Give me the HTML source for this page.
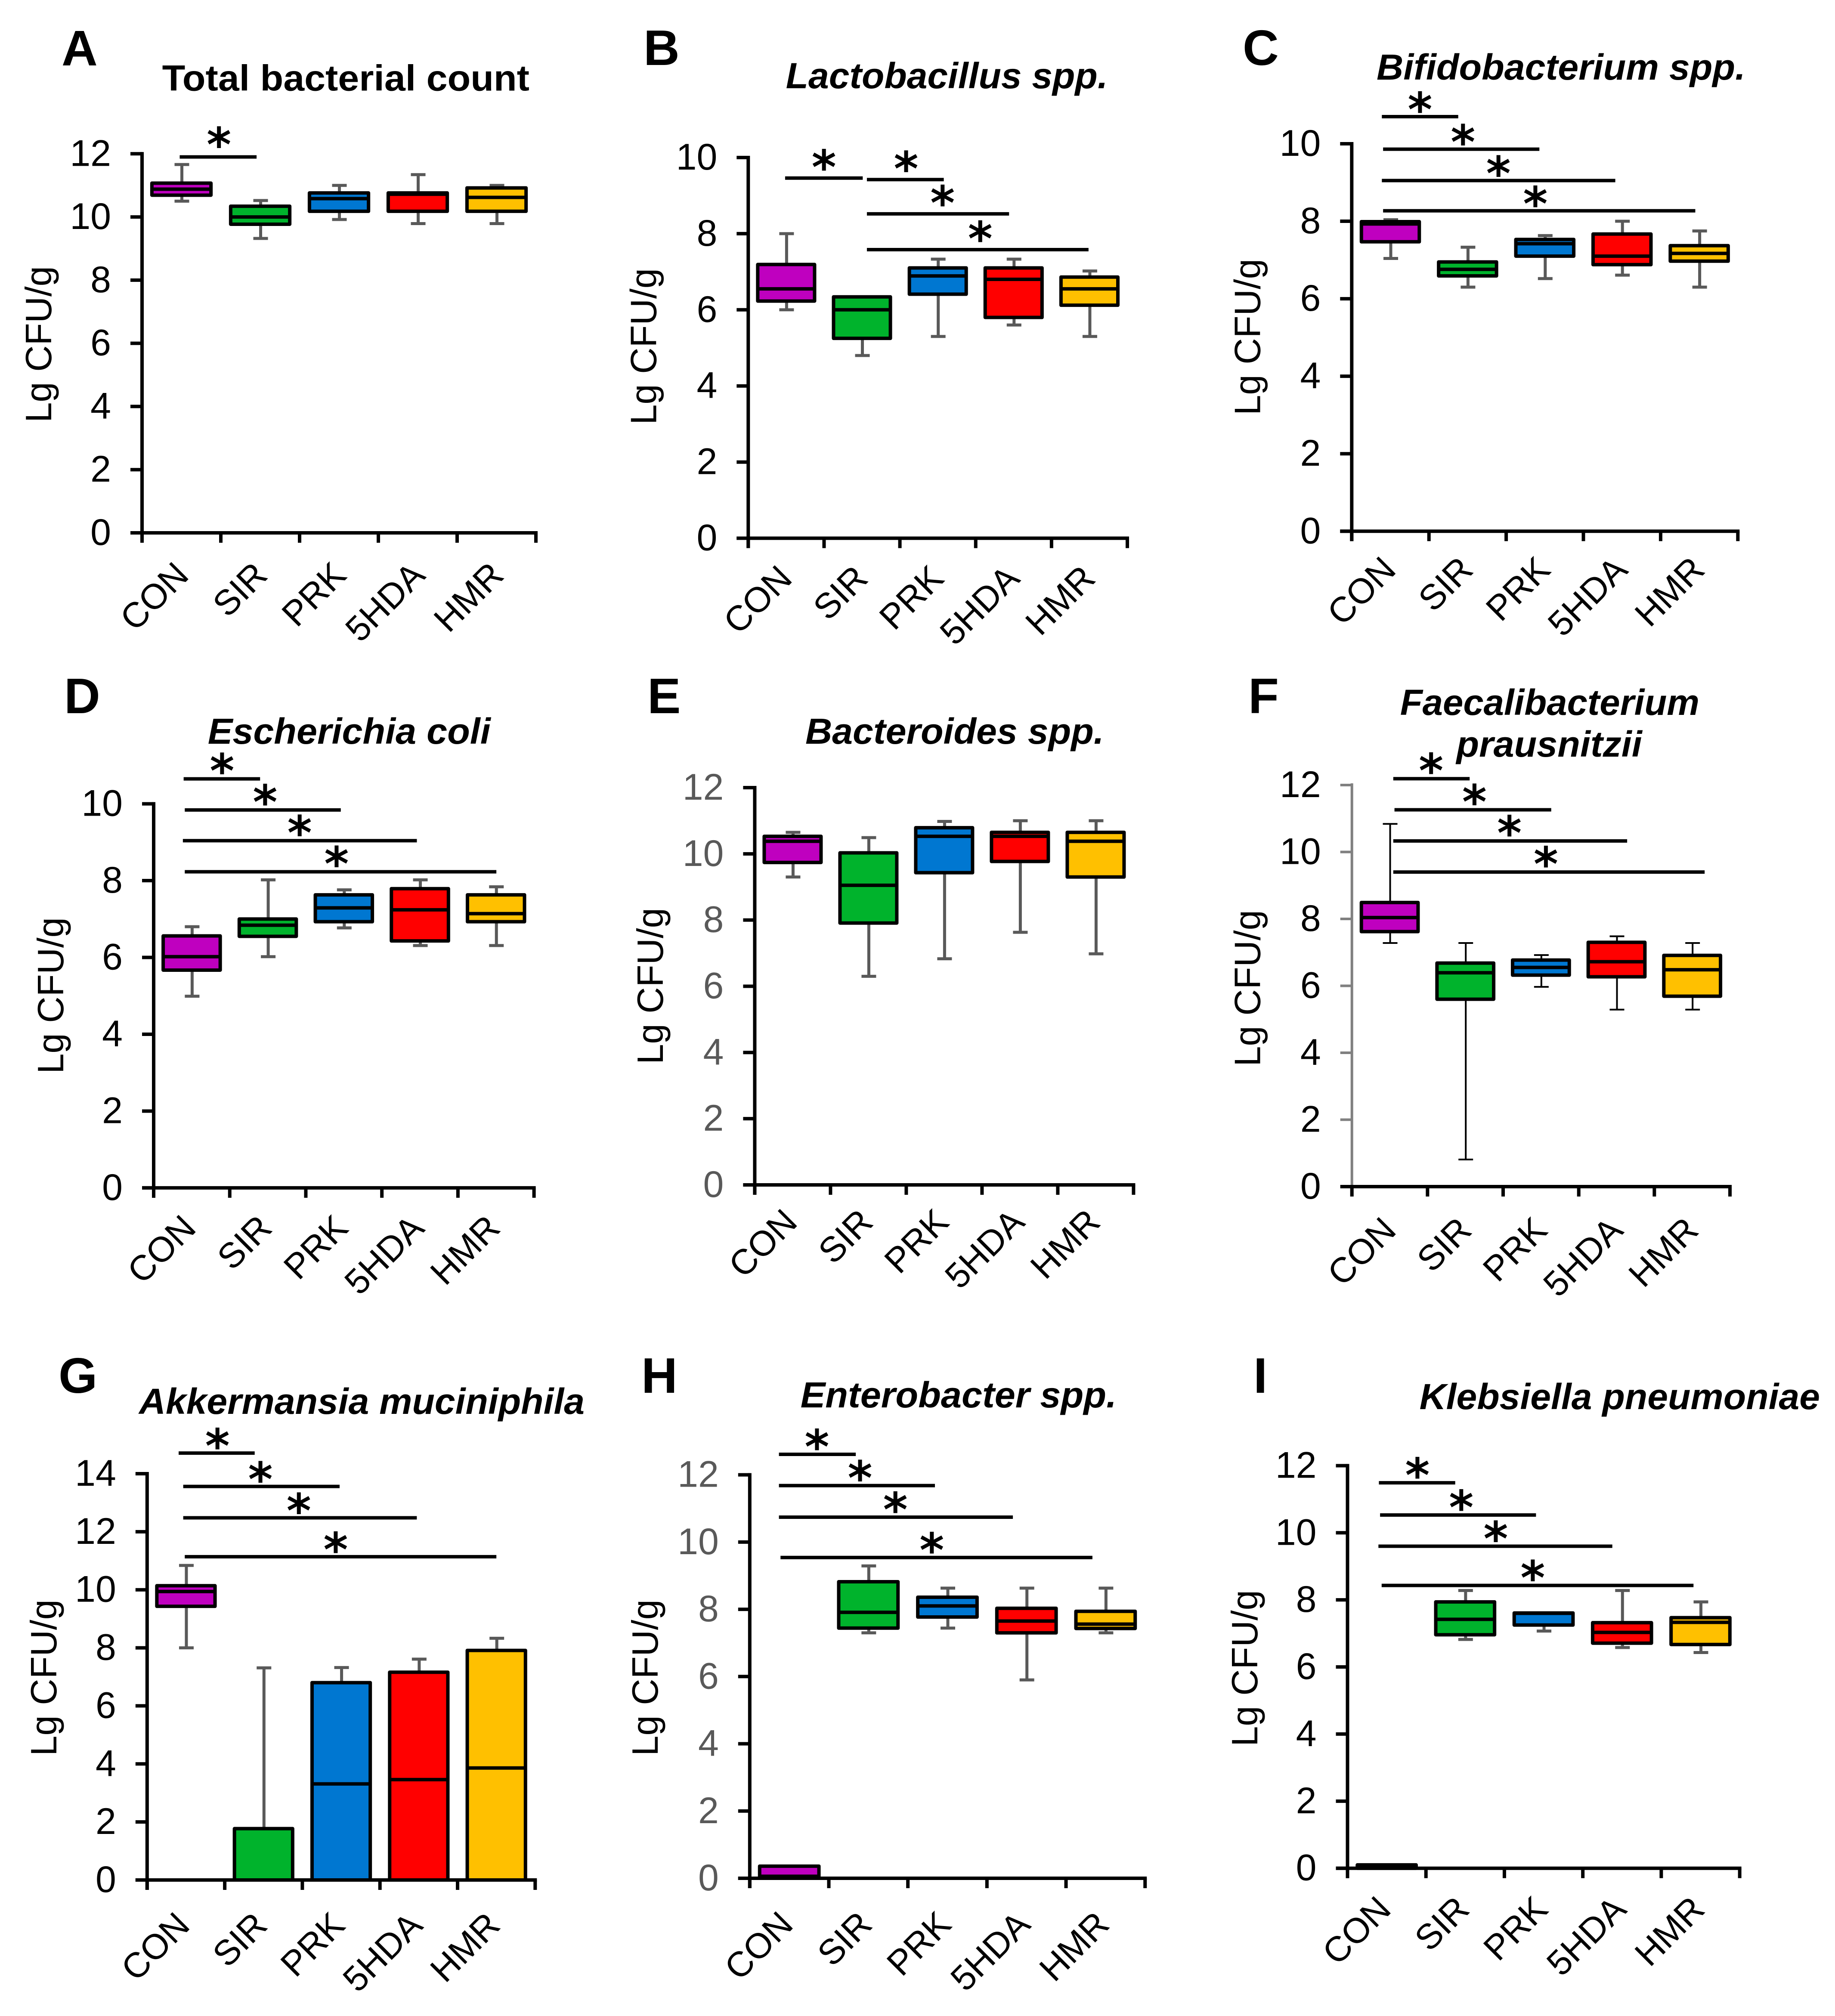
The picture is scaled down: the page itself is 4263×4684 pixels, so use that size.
<!DOCTYPE html>
<html lang="en">
<head>
<meta charset="utf-8">
<title>Gut bacteria box plots</title>
<style>
html,body{margin:0;padding:0;background:#fff;}
svg{display:block;font-family:"Liberation Sans",sans-serif;}
</style>
</head>
<body>
<svg id="figure" xmlns="http://www.w3.org/2000/svg" width="4263" height="4684" viewBox="0 0 4263 4684">
<rect width="4263" height="4684" fill="#ffffff"/>
</svg>
<script>
// Shared categories and tick labels
const categories = ['CON', 'SIR', 'PRK', '5HDA', 'HMR'];
const ticksTo10 = [0, 2, 4, 6, 8, 10];
const ticksTo12 = [0, 2, 4, 6, 8, 10, 12];
const ticksTo14 = [0, 2, 4, 6, 8, 10, 12, 14];
const yAxisTitle = 'Lg CFU/g';

// A: Total bacterial count
const aHigh = [11.66, 10.52, 11.0, 11.34, 11.0];
const aQ3 = [11.07, 10.34, 10.76, 10.76, 10.92];
const aMedian = [10.88, 10.0, 10.58, 10.72, 10.62];
const aQ1 = [10.69, 9.77, 10.18, 10.18, 10.18];
const aLow = [10.5, 9.32, 9.92, 9.79, 9.79];
const aSigFrom = [0.478];
const aSigTo = [1.454];
const aSigLevel = [11.9];
const aSigStar = [0.976];

// B: Lactobacillus spp.
const bHigh = [8.0, 6.34, 7.33, 7.33, 7.02];
const bQ3 = [7.19, 6.34, 7.1, 7.1, 6.86];
const bMedian = [6.55, 6.0, 6.89, 6.8, 6.55];
const bQ1 = [6.23, 5.25, 6.41, 5.8, 6.12];
const bLow = [6.0, 4.8, 5.3, 5.6, 5.3];
const bSigFrom = [0.486, 1.565, 1.565, 1.565];
const bSigTo = [1.51, 2.579, 3.44, 4.488];
const bSigLevel = [9.46, 9.42, 8.52, 7.58];
const bSigStar = [0.998, 2.082, 2.563, 3.06];

// C: Bifidobacterium spp.
const cHigh = [8.04, 7.33, 7.63, 8.0, 7.75];
const cQ3 = [7.99, 6.95, 7.53, 7.67, 7.37];
const cMedian = [7.93, 6.76, 7.42, 7.1, 7.17];
const cQ1 = [7.47, 6.59, 7.1, 6.88, 6.97];
const cLow = [7.04, 6.3, 6.52, 6.61, 6.3];
const cSigFrom = [0.39, 0.406, 0.39, 0.406];
const cSigTo = [1.379, 2.43, 3.413, 4.449];
const cSigLevel = [10.7, 9.86, 9.05, 8.27];
const cSigStar = [0.884, 1.441, 1.9, 2.378];

// D: Escherichia coli
const dHigh = [6.8, 8.02, 7.76, 8.02, 7.84];
const dQ3 = [6.56, 7.0, 7.63, 7.79, 7.63];
const dMedian = [6.02, 6.84, 7.29, 7.24, 7.14];
const dQ1 = [5.67, 6.55, 6.93, 6.43, 6.93];
const dLow = [4.99, 6.02, 6.77, 6.31, 6.31];
const dSigFrom = [0.394, 0.409, 0.384, 0.409];
const dSigTo = [1.399, 2.46, 3.46, 4.505];
const dSigLevel = [10.65, 9.84, 9.04, 8.23];
const dSigStar = [0.899, 1.465, 1.919, 2.404];

// E: Bacteroides spp.
const eHigh = [10.65, 10.49, 10.98, 11.0, 11.0];
const eQ3 = [10.53, 10.03, 10.79, 10.65, 10.65];
const eMedian = [10.38, 9.05, 10.53, 10.53, 10.38];
const eQ1 = [9.74, 7.91, 9.43, 9.77, 9.3];
const eLow = [9.3, 6.3, 6.83, 7.63, 6.98];
const eSigFrom = [];
const eSigTo = [];
const eSigLevel = [];
const eSigStar = [];

// F: Faecalibacterium prausnitzii
const fHigh = [10.84, 7.28, 6.92, 7.48, 7.28];
const fQ3 = [8.49, 6.68, 6.77, 7.3, 6.91];
const fMedian = [8.04, 6.39, 6.55, 6.72, 6.48];
const fQ1 = [7.62, 5.6, 6.32, 6.27, 5.69];
const fLow = [7.28, 0.81, 5.97, 5.29, 5.29];
const fSigFrom = [0.547, 0.563, 0.547, 0.547];
const fSigTo = [1.557, 2.636, 3.64, 4.665];
const fSigLevel = [12.19, 11.26, 10.33, 9.4];
const fSigStar = [1.047, 1.621, 2.083, 2.566];

// G: Akkermansia muciniphila
const gHigh = [10.84, 7.31, 7.32, 7.61, 8.33];
const gQ3 = [10.14, 1.77, 6.8, 7.16, 7.91];
const gMedian = [9.94, 0, 3.31, 3.46, 3.86];
const gQ1 = [9.43, 0, 0, 0, 0];
const gLow = [8.0, 0, 0, 0, 0];
const gSigFrom = [0.406, 0.465, 0.465, 0.485];
const gSigTo = [1.386, 2.48, 3.475, 4.5];
const gSigLevel = [14.71, 13.56, 12.48, 11.14];
const gSigStar = [0.906, 1.46, 1.955, 2.43];

// H: Enterobacter spp.
const hHigh = [0.36, 9.29, 8.63, 8.63, 8.63];
const hQ3 = [0.36, 8.82, 8.36, 8.03, 7.94];
const hMedian = [0.06, 7.91, 8.1, 7.65, 7.56];
const hQ1 = [0, 7.44, 7.77, 7.3, 7.43];
const hLow = [0, 7.3, 7.44, 5.9, 7.3];
const hSigFrom = [0.369, 0.369, 0.369, 0.389];
const hSigTo = [1.341, 2.342, 3.328, 4.334];
const hSigLevel = [12.61, 11.68, 10.74, 9.54];
const hSigStar = [0.85, 1.395, 1.842, 2.303];

// I: Klebsiella pneumoniae
const iHigh = [0.1, 8.28, 7.61, 8.28, 7.94];
const iQ3 = [0.1, 7.94, 7.61, 7.32, 7.47];
const iMedian = [0.05, 7.42, 7.6, 7.03, 7.33];
const iQ1 = [0, 6.96, 7.25, 6.71, 6.67];
const iLow = [0, 6.82, 7.07, 6.58, 6.43];
const iSigFrom = [0.4, 0.415, 0.394, 0.435];
const iSigTo = [1.373, 2.403, 3.376, 4.411];
const iSigLevel = [11.49, 10.53, 9.6, 8.43];
const iSigStar = [0.891, 1.45, 1.89, 2.362];

// Box fill per category
const boxFills = ['#bf00bf', '#00b32c', '#0077d1', '#ff0000', '#ffc000'];

// Panel layout (pixel frames, separate from the values above)
const panelLayouts = [
  {id:'a', letter:'A', lx:143, ly:152, left:330, right:1245, bottom:1238, top:357.3, ticks:ticksTo12,
   high:aHigh, q3:aQ3, med:aMedian, q1:aQ1, low:aLow, sf:aSigFrom, st:aSigTo, sl:aSigLevel, ss:aSigStar, lift:42,
   titles:[{t:'Total bacterial count', x1:376.6, x2:1229.9, y:210.7, it:false}], ytx:119, yty:800, xdx:21, xdy:103},
  {id:'b', letter:'B', lx:1495, ly:151, left:1738.3, right:2619, bottom:1250.5, top:366, ticks:ticksTo10,
   high:bHigh, q3:bQ3, med:bMedian, q1:bQ1, low:bLow, sf:bSigFrom, st:bSigTo, sl:bSigLevel, ss:bSigStar, lift:39,
   titles:[{t:'Lactobacillus spp.', x1:1825.7, x2:2573.6, y:204.8, it:true}], ytx:1524.6, yty:805, xdx:18, xdy:98},
  {id:'c', letter:'C', lx:2887, ly:151, left:3140.3, right:4037.3, bottom:1234.3, top:334, ticks:ticksTo10,
   high:cHigh, q3:cQ3, med:cMedian, q1:cQ1, low:cLow, sf:cSigFrom, st:cSigTo, sl:cSigLevel, ss:cSigStar, lift:30,
   titles:[{t:'Bifidobacterium spp.', x1:3198, x2:4055, y:185, it:true}], ytx:2927.7, yty:783, xdx:17, xdy:94},
  {id:'d', letter:'D', lx:149, ly:1657, left:357, right:1240.6, bottom:2759.9, top:1867.6, ticks:ticksTo10,
   high:dHigh, q3:dQ3, med:dMedian, q1:dQ1, low:dLow, sf:dSigFrom, st:dSigTo, sl:dSigLevel, ss:dSigStar, lift:32,
   titles:[{t:'Escherichia coli', x1:482.8, x2:1139.7, y:1728, it:true}], ytx:147, yty:2313, xdx:14, xdy:98},
  {id:'e', letter:'E', lx:1504, ly:1657, left:1753.4, right:2633.4, bottom:2753, top:1830, ticks:ticksTo12, grayText:true,
   high:eHigh, q3:eQ3, med:eMedian, q1:eQ1, low:eLow, sf:eSigFrom, st:eSigTo, sl:eSigLevel, ss:eSigStar, lift:32,
   titles:[{t:'Bacteroides spp.', x1:1871, x2:2564.7, y:1728, it:true}], ytx:1539.8, yty:2291, xdx:15, xdy:91},
  {id:'f', letter:'F', lx:2900, ly:1657, left:3140.7, right:4019, bottom:2757, top:1824, ticks:ticksTo12, thinWhisker:true,
   high:fHigh, q3:fQ3, med:fMedian, q1:fQ1, low:fLow, sf:fSigFrom, st:fSigTo, sl:fSigLevel, ss:fSigStar, lift:32,
   titles:[{t:'Faecalibacterium', x1:3252.7, x2:3948, y:1660.8, it:true}, {t:'prausnitzii', x1:3383.4, x2:3814.7, y:1757.8, it:true}], ytx:2927.7, yty:2296, xdx:19, xdy:106},
  {id:'g', letter:'G', lx:136, ly:3236, left:341.8, right:1243.3, bottom:4368, top:3424, ticks:ticksTo14,
   high:gHigh, q3:gQ3, med:gMedian, q1:gQ1, low:gLow, sf:gSigFrom, st:gSigTo, sl:gSigLevel, ss:gSigStar, lift:30,
   titles:[{t:'Akkermansia muciniphila', x1:323, x2:1358, y:3285, it:true}], ytx:130.9, yty:3898, xdx:13, xdy:110},
  {id:'h', letter:'H', lx:1490, ly:3236, left:1741.8, right:2660.2, bottom:4364, top:3426.6, ticks:ticksTo12, grayText:true,
   high:hHigh, q3:hQ3, med:hMedian, q1:hQ1, low:hLow, sf:hSigFrom, st:hSigTo, sl:hSigLevel, ss:hSigStar, lift:31,
   titles:[{t:'Enterobacter spp.', x1:1859.6, x2:2594, y:3269.9, it:true}], ytx:1528.2, yty:3898, xdx:13, xdy:112},
  {id:'i', letter:'I', lx:2912, ly:3236, left:3130.5, right:4041.6, bottom:4340.7, top:3405.4, ticks:ticksTo12,
   high:iHigh, q3:iQ3, med:iMedian, q1:iQ1, low:iLow, sf:iSigFrom, st:iSigTo, sl:iSigLevel, ss:iSigStar, lift:31,
   titles:[{t:'Klebsiella pneumoniae', x1:3297.6, x2:4228, y:3274, it:true}], ytx:2921.2, yty:3876, xdx:14, xdy:100}
];

const SVG_NS = 'http://www.w3.org/2000/svg';
const figure = document.getElementById('figure');

function makeLine(parent, x1, y1, x2, y2, color, width, cap) {
  const el = document.createElementNS(SVG_NS, 'line');
  el.setAttribute('x1', x1);
  el.setAttribute('y1', y1);
  el.setAttribute('x2', x2);
  el.setAttribute('y2', y2);
  el.setAttribute('stroke', color);
  el.setAttribute('stroke-width', width);
  el.setAttribute('stroke-linecap', cap || 'butt');
  parent.appendChild(el);
  return el;
}

function makeText(parent, str, x, y, size, color, anchor) {
  const el = document.createElementNS(SVG_NS, 'text');
  el.setAttribute('x', x);
  el.setAttribute('y', y);
  el.setAttribute('font-size', size);
  el.setAttribute('fill', color);
  el.setAttribute('text-anchor', anchor || 'start');
  el.textContent = str;
  parent.appendChild(el);
  return el;
}

function drawPanel(p) {
  const yMax = p.ticks[p.ticks.length - 1];
  const yScale = v => p.bottom - (v / yMax) * (p.bottom - p.top);
  const catW = (p.right - p.left) / categories.length;
  const xScale = c => p.left + c * catW;
  const boxW = catW * 0.75;
  const textColor = p.grayText ? '#595959' : '#000000';
  const whiskerColor = p.thinWhisker ? '#000000' : '#595959';
  const whiskerW = p.thinWhisker ? 4 : 7;

  const g = document.createElementNS(SVG_NS, 'g');
  
  
  figure.appendChild(g);

  const letter = makeText(g, p.letter, p.lx, p.ly, 116, '#000000');
  letter.setAttribute('font-weight', 'bold');
  
  

  p.titles.forEach((tt, idx) => {
    const title = makeText(g, tt.t, tt.x1, tt.y, 84, '#000000');
    title.setAttribute('font-weight', 'bold');
    if (tt.it) title.setAttribute('font-style', 'italic');
    title.setAttribute('textLength', tt.x2 - tt.x1);
    title.setAttribute('lengthAdjust', 'spacingAndGlyphs');
    
    
  });

  const yTitle = makeText(g, yAxisTitle, 0, 0, 85, '#000000', 'middle');
  yTitle.setAttribute('transform', 'translate(' + p.ytx + ',' + p.yty + ') rotate(-90)');
  
  

  // Boxes and whiskers
  categories.forEach((cat, i) => {
    const cx = xScale(i + 0.5);
    const stemHi = makeLine(g, cx + 1, yScale(p.high[i]), cx + 1, yScale(p.q3[i]), whiskerColor, whiskerW);
    
    
    const capHi = makeLine(g, cx + 1 - 17, yScale(p.high[i]), cx + 1 + 17, yScale(p.high[i]), whiskerColor, whiskerW);
    
    
    const stemLo = makeLine(g, cx + 1, yScale(p.q1[i]), cx + 1, yScale(p.low[i]), whiskerColor, whiskerW);
    
    
    const capLo = makeLine(g, cx + 1 - 17, yScale(p.low[i]), cx + 1 + 17, yScale(p.low[i]), whiskerColor, whiskerW);
    
    

    const box = document.createElementNS(SVG_NS, 'rect');
    box.setAttribute('x', cx - boxW / 2);
    box.setAttribute('y', yScale(p.q3[i]));
    box.setAttribute('width', boxW);
    box.setAttribute('height', Math.max(yScale(p.q1[i]) - yScale(p.q3[i]), 0));
    box.setAttribute('fill', boxFills[i]);
    box.setAttribute('stroke', '#000000');
    box.setAttribute('stroke-width', 8);
    box.setAttribute('stroke-linejoin', 'round');
    
    
    g.appendChild(box);

    const med = makeLine(g, cx - boxW / 2, yScale(p.med[i]), cx + boxW / 2, yScale(p.med[i]), '#000000', 8);
    
    
  });

  // Significance brackets
  p.sf.forEach((from, i) => {
    const ly = yScale(p.sl[i]);
    const bar = makeLine(g, xScale(from), ly, xScale(p.st[i]), ly, '#000000', 8);
    
    
    const star = makeText(g, '*', xScale(p.ss[i]), ly - p.lift + 52, 109, '#000000', 'middle');
    star.setAttribute('font-family', '"DejaVu Sans", sans-serif');
    star.setAttribute('font-weight', 'bold');
    
    
  });

  // Y axis
  const yAxisColor = p.thinWhisker ? '#808080' : '#000000';
  const yAxis = makeLine(g, p.left, p.top - 4, p.left, p.bottom + 23, yAxisColor, p.thinWhisker ? 6 : 8);
  
  
  p.ticks.forEach(t => {
    const ty = yScale(t);
    const tick = makeLine(g, p.left - 27, ty, p.left, ty, yAxisColor, p.thinWhisker ? 6 : 8);
    
    
    const lab = makeText(g, String(t), p.left - 72, ty + 28, 86, textColor, 'end');
    
    
  });

  // X axis
  const xAxis = makeLine(g, p.left - 27, p.bottom, p.right + 4, p.bottom, '#000000', 8);
  
  
  for (let k = 0; k <= categories.length; k++) {
    const tk = makeLine(g, xScale(k), p.bottom, xScale(k), p.bottom + 23, '#000000', 8);
    
    
  }
  categories.forEach((cat, i) => {
    const lab = makeText(g, cat, 0, 0, 82, '#000000', 'end');
    lab.setAttribute('transform', 'translate(' + (xScale(i + 0.5) + p.xdx) + ',' + (p.bottom + p.xdy) + ') rotate(-45)');
    
    
  });
}

panelLayouts.forEach(drawPanel);
</script>
</body>
</html>
